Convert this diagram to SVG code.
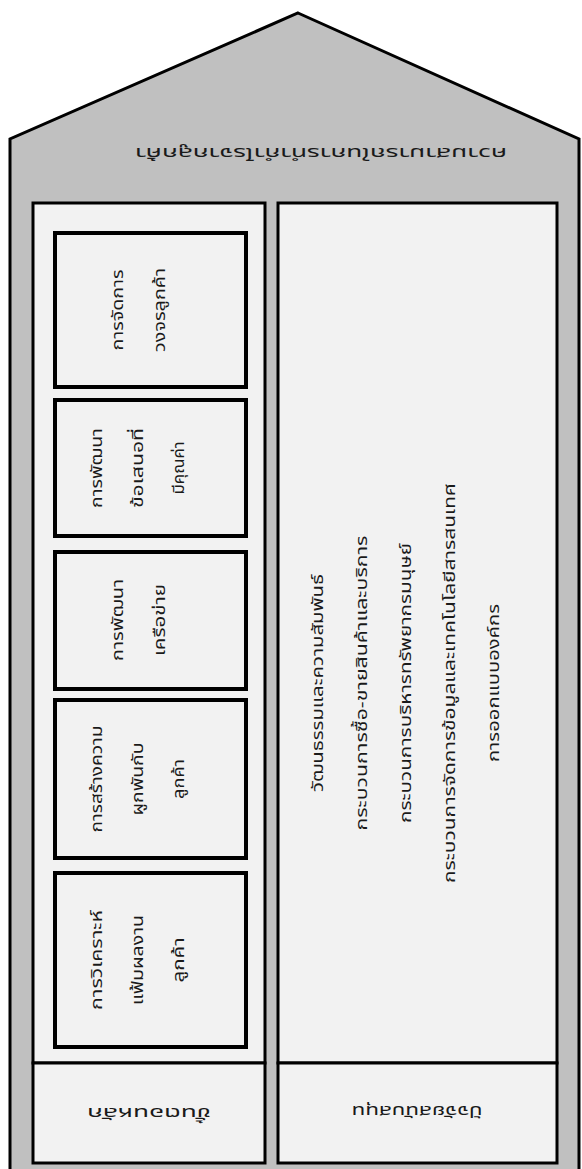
<svg xmlns="http://www.w3.org/2000/svg" width="582" height="1169" viewBox="0 0 582 1169">
<style>
.house{fill:#c0c0c0;stroke:#000;stroke-width:3;stroke-linejoin:miter}
.col{fill:#f2f2f2;stroke:#000;stroke-width:3}
.pillar{fill:#f2f2f2;stroke:#000;stroke-width:4}
text{font-family:Tahoma,"Noto Sans Thai","Loma","Garuda","Norasi","Noto Sans","DejaVu Sans",sans-serif;font-size:16px;fill:#1a1a1a;text-anchor:middle;dominant-baseline:central}
</style>
<g id="house">
<polygon class="house" points="298,13 579,139 579,1175 10,1175 10,139"/>
<text transform="translate(321,153) rotate(180)" textLength="372" lengthAdjust="spacingAndGlyphs">ความสามารถในการทำกำไรจากลูกค้า</text>
</g>
<g id="primary-column">
<rect class="col" x="33" y="203" width="232" height="860"/>
</g>
<g id="support-column">
<rect class="col" x="278" y="203" width="279" height="860"/>
<g transform="translate(406,683) rotate(-90)">
<text x="0" y="-88" textLength="218" lengthAdjust="spacingAndGlyphs">วัฒนธรรมและความสัมพันธ์</text>
<text x="0" y="-44" textLength="295" lengthAdjust="spacingAndGlyphs">กระบวนการซื้อ-ขายสินค้าและบริการ</text>
<text x="0" y="0" textLength="280" lengthAdjust="spacingAndGlyphs">กระบวนการบริหารทรัพยากรมนุษย์</text>
<text x="0" y="44" textLength="400" lengthAdjust="spacingAndGlyphs">กระบวนการจัดการข้อมูลและเทคโนโลยีสารสนเทศ</text>
<text x="0" y="88" textLength="158" lengthAdjust="spacingAndGlyphs">การออกแบบองค์กร</text>
</g>
</g>
<g id="pillar-1">
<rect class="pillar" x="55" y="233" width="191" height="154"/>
<g transform="translate(139,310) rotate(-90)">
<text x="0" y="-21" textLength="81" lengthAdjust="spacingAndGlyphs">การจัดการ</text>
<text x="0" y="21" textLength="84" lengthAdjust="spacingAndGlyphs">วงจรลูกค้า</text>
</g>
</g>
<g id="pillar-2">
<rect class="pillar" x="55" y="400" width="191" height="136"/>
<g transform="translate(138,468) rotate(-90)">
<text x="0" y="-41" textLength="80" lengthAdjust="spacingAndGlyphs">การพัฒนา</text>
<text x="0" y="0" textLength="80" lengthAdjust="spacingAndGlyphs">ข้อเสนอที่</text>
<text x="0" y="41" textLength="53" lengthAdjust="spacingAndGlyphs">มีคุณค่า</text>
</g>
</g>
<g id="pillar-3">
<rect class="pillar" x="55" y="552" width="191" height="137"/>
<g transform="translate(139,620) rotate(-90)">
<text x="0" y="-21" textLength="82" lengthAdjust="spacingAndGlyphs">การพัฒนา</text>
<text x="0" y="21" textLength="72" lengthAdjust="spacingAndGlyphs">เครือข่าย</text>
</g>
</g>
<g id="pillar-4">
<rect class="pillar" x="55" y="700" width="191" height="158"/>
<g transform="translate(138,779) rotate(-90)">
<text x="0" y="-41" textLength="107" lengthAdjust="spacingAndGlyphs">การสร้างความ</text>
<text x="0" y="0" textLength="73" lengthAdjust="spacingAndGlyphs">ผูกพันกับ</text>
<text x="0" y="41" textLength="40" lengthAdjust="spacingAndGlyphs">ลูกค้า</text>
</g>
</g>
<g id="pillar-5">
<rect class="pillar" x="55" y="873" width="191" height="174"/>
<g transform="translate(138,960) rotate(-90)">
<text x="0" y="-41" textLength="100" lengthAdjust="spacingAndGlyphs">การวิเคราะห์</text>
<text x="0" y="0" textLength="90" lengthAdjust="spacingAndGlyphs">แฟ้มผลงาน</text>
<text x="0" y="41" textLength="45" lengthAdjust="spacingAndGlyphs">ลูกค้า</text>
</g>
</g>
<g id="primary-base">
<rect class="col" x="33" y="1063" width="232" height="100"/>
<text transform="translate(149,1113) rotate(180)" textLength="124" lengthAdjust="spacingAndGlyphs">ขั้นตอนหลัก</text>
</g>
<g id="support-base">
<rect class="col" x="278" y="1063" width="279" height="100"/>
<text transform="translate(417,1111) rotate(180)" textLength="131" lengthAdjust="spacingAndGlyphs">ปัจจัยสนับสนุน</text>
</g>
<g id="connectors"/>
</svg>
